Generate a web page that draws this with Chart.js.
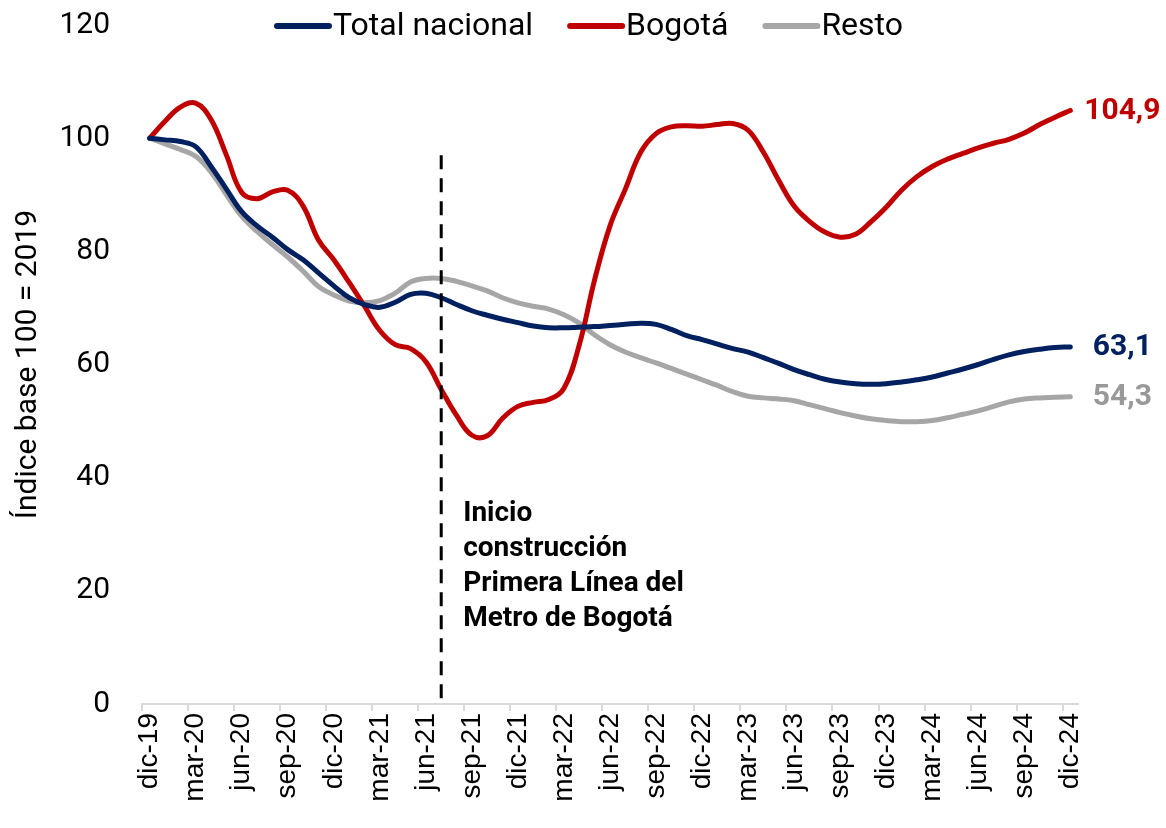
<!DOCTYPE html>
<html>
<head>
<meta charset="utf-8">
<script src="https://cdn.jsdelivr.net/npm/chart.js@4.4.1/dist/chart.umd.min.js"></script>
<style>
  html, body { margin: 0; padding: 0; background: #fff; }
  #wrap { width: 1166px; height: 828px; }
</style>
</head>
<body>
<div id="wrap"><canvas id="chart"></canvas></div>
<script>
// monthly categories dic-19 .. dic-24, one label shown every 3 months
const monthNames = ["ene", "feb", "mar", "abr", "may", "jun", "jul", "ago", "sep", "oct", "nov", "dic"];
const labels = ["dic-19"];
for (let y = 20; y <= 24; y++) {
  monthNames.forEach(m => labels.push(m + "-" + y));
}

const totalNacional = [
  100, 99.7, 99.4, 98.5, 95, 91, 87, 84.5, 82.5, 80.3,
  78.5, 76.2, 73.9, 71.8, 70.6, 70.1, 71, 72.4, 72.6, 71.8,
  70.6, 69.5, 68.7, 68, 67.4, 66.8, 66.5, 66.5, 66.6, 66.7,
  66.9, 67.1, 67.3, 67.1, 66.2, 65.1, 64.4, 63.6, 62.8, 62.2,
  61.2, 60.2, 59.1, 58.2, 57.4, 56.9, 56.6, 56.5, 56.6, 56.9,
  57.3, 57.8, 58.5, 59.2, 60, 60.9, 61.7, 62.3, 62.7, 63,
  63.1
];
const bogota = [
  100, 103, 105.5, 106.2, 103.3, 97, 90.4, 89.3, 90.5, 90.8,
  88, 82, 78.5, 74.5, 70.3, 66, 63.5, 62.8, 60.5, 55.6,
  51, 47.5, 47.4, 50.5, 52.6, 53.3, 53.8, 55.8, 63.5, 75,
  84.5, 91, 97.5, 100.8, 102, 102.2, 102.1, 102.4, 102.6, 101.4,
  97.5, 92.5, 88, 85.3, 83.4, 82.5, 83, 85.2, 87.8, 90.8,
  93.2, 95, 96.3, 97.3, 98.3, 99.1, 99.8, 100.9, 102.4, 103.7,
  104.9
];
const resto = [
  100, 99, 98, 96.8, 94, 90, 86.2, 83.5, 81.2, 79,
  76.5, 73.8, 72.3, 71.2, 70.9, 71.3, 72.6, 74.6, 75.2, 75.2,
  74.7, 73.9, 73, 71.8, 70.9, 70.3, 69.8, 68.8, 67.3, 65.2,
  63.5, 62.2, 61.2, 60.3, 59.3, 58.3, 57.3, 56.3, 55.2, 54.4,
  54.1, 53.9, 53.6, 52.9, 52.2, 51.5, 50.9, 50.4, 50.1, 49.9,
  49.9, 50.1, 50.6, 51.2, 51.8, 52.6, 53.4, 53.9, 54.1, 54.2,
  54.3
];

const seriesNames = ["Total nacional", "Bogotá", "Resto"];
const seriesColors = ["#002060", "#C00000", "#A6A6A6"];
const labelColors = ["#002060", "#C00000", "#999999"];

const yTicks = [0, 20, 40, 60, 80, 100, 120];

// vertical marker: start of metro construction
const metroIndex = 19;
const metroTop = 97;
const metroText = ["Inicio", "construcción", "Primera Línea del", "Metro de Bogotá"];

const fmt = v => v.toFixed(1).replace(".", ",");

const overlay = {
  id: "overlay",
  afterDatasetsDraw(chart) {
    const ctx = chart.ctx;
    const x = chart.scales.x;
    const y = chart.scales.y;

    // dashed marker line
    const mx = x.getPixelForValue(metroIndex);
    ctx.save();
    ctx.strokeStyle = "#000";
    ctx.lineWidth = 3;
    ctx.setLineDash([14, 9]);
    ctx.beginPath();
    ctx.moveTo(mx, y.getPixelForValue(metroTop));
    ctx.lineTo(mx, y.getPixelForValue(1));
    ctx.stroke();
    ctx.setLineDash([]);

    ctx.font = "bold 28px Roboto";
    ctx.fillStyle = "#000";
    ctx.textAlign = "left";
    ctx.textBaseline = "middle";
    metroText.forEach((t, i) => {
      ctx.fillText(t, mx + 22, y.getPixelForValue(33.6) + i * 35);
    });

    // end-of-line value labels
    ctx.font = "bold 30px Roboto";
    ctx.textAlign = "center";
    chart.data.datasets.forEach((ds, i) => {
      const last = ds.data.length - 1;
      const v = ds.data[last];
      ctx.fillStyle = labelColors[i];
      ctx.fillText(fmt(v), x.getPixelForValue(last) + 52, y.getPixelForValue(v) + 1);
    });

    // legend across the top
    ctx.font = "32px Roboto";
    ctx.textAlign = "left";
    ctx.lineCap = "round";
    let lx = 277;
    const ly = 26;
    seriesNames.forEach((name, i) => {
      ctx.strokeStyle = seriesColors[i];
      ctx.lineWidth = 6;
      ctx.beginPath();
      ctx.moveTo(lx, ly);
      ctx.lineTo(lx + 52, ly);
      ctx.stroke();
      ctx.fillStyle = "#000";
      ctx.fillText(name, lx + 56, ly + 1);
      lx += 56 + ctx.measureText(name).width + 37;
    });
    ctx.restore();
  }
};

new Chart(document.getElementById("chart"), {
  type: "line",
  data: {
    labels: labels,
    datasets: [
      { label: seriesNames[0], data: totalNacional, borderColor: seriesColors[0] },
      { label: seriesNames[1], data: bogota, borderColor: seriesColors[1] },
      { label: seriesNames[2], data: resto, borderColor: seriesColors[2] }
    ]
  },
  options: {
    responsive: true,
    maintainAspectRatio: false,
    animation: false,
    layout: { padding: { left: 6, right: 88, top: 25, bottom: 0 } },
    elements: {
      line: { borderWidth: 5, tension: 0.4, borderCapStyle: "round", fill: false },
      point: { radius: 0, hoverRadius: 0 }
    },
    plugins: {
      legend: { display: false },
      tooltip: { enabled: false }
    },
    scales: {
      x: {
        type: "category",
        offset: true,
        afterFit: s => { s.height = 124; },
        border: { display: true, color: "#D9D9D9", width: 2 },
        grid: {
          offset: true,
          drawOnChartArea: false,
          drawTicks: true,
          tickLength: 7,
          lineWidth: 2,
          color: c => (c.index % 3 === 0 && c.index < labels.length ? "#D9D9D9" : "rgba(0,0,0,0)")
        },
        ticks: {
          autoSkip: false,
          minRotation: 90,
          maxRotation: 90,
          padding: 2,
          color: "#000",
          font: { family: "'Liberation Sans', Arial, sans-serif", size: 28 },
          callback: function (val, i) { return i % 3 === 0 ? labels[i] : ""; }
        }
      },
      y: {
        min: 0,
        max: 120,
        afterFit: s => { s.width = 136; },
        afterBuildTicks: s => { s.ticks = yTicks.map(v => ({ value: v })); },
        border: { display: false },
        grid: {
          display: true,
          drawOnChartArea: false,
          drawTicks: true,
          tickLength: 28,
          color: "rgba(0,0,0,0)"
        },
        ticks: {
          padding: 4,
          color: "#000",
          font: { family: "Roboto", size: 30 }
        },
        title: {
          display: true,
          text: "Índice base 100 = 2019",
          color: "#000",
          padding: { top: 4, bottom: 0 },
          font: { family: "Roboto", size: 30 }
        }
      }
    }
  },
  plugins: [overlay]
});
</script>
</body>
</html>
